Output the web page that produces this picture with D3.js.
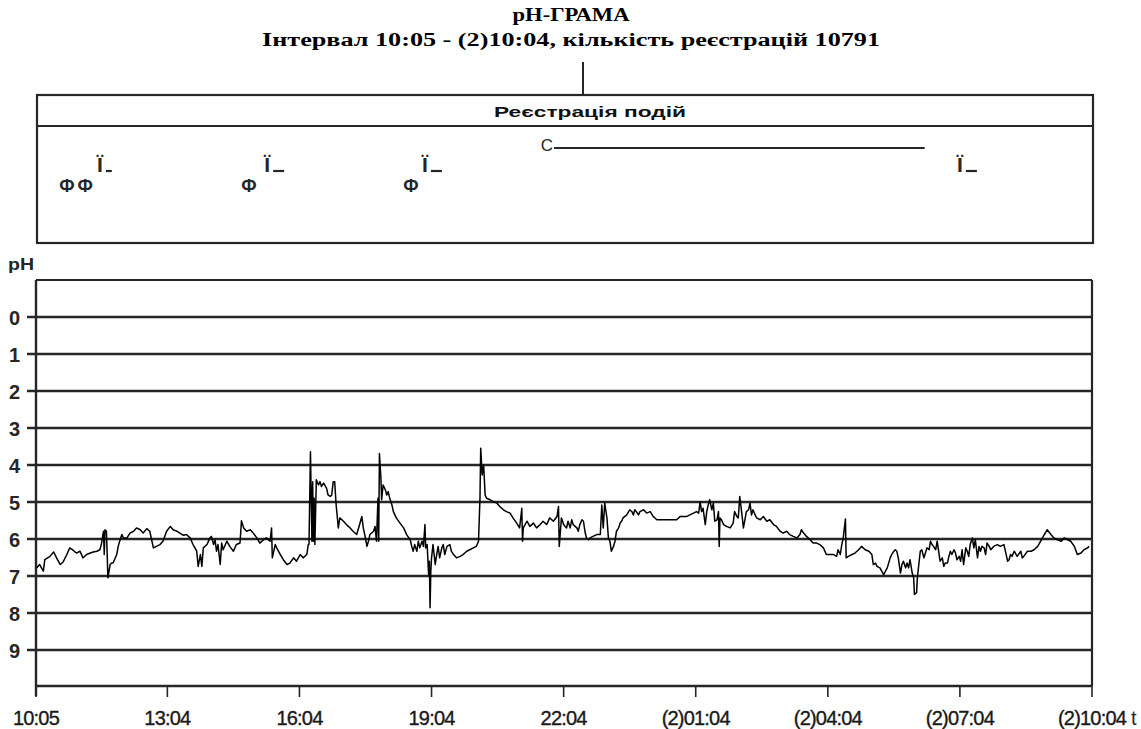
<!DOCTYPE html>
<html><head><meta charset="utf-8">
<script src="https://cdn.jsdelivr.net/npm/d3@7"></script>
<style>body{margin:0;background:#fff}svg{display:block}
.serif{font-family:"Liberation Serif","Tinos","Times New Roman","DejaVu Serif",serif;font-weight:bold}
.sans{font-family:"Liberation Sans",Arial,"Arimo",sans-serif}
</style>
</head><body>
<svg id="c" width="1141" height="729"></svg>
<script>
// ---- data ----
const title = "pH-ГРАМА";
const subtitle = "Інтервал 10:05 - (2)10:04, кількість реєстрацій 10791";
const eventsTitle = "Реєстрація подій";
// minutes since 10:05
const times = [1,5,10,12,19,24,28,33,37,42,46,51,55,60,64,69,74,78,83,87,89,92,93,94,96,98,101,103,105,110,112,114,117,119,124,128,133,137,142,146,151,155,160,164,169,173,178,183,187,192,196,201,205,210,214,219,221,224,226,228,233,237,239,242,244,246,248,251,253,255,260,264,269,273,278,280,283,287,292,296,301,305,310,314,319,321,322,326,328,333,337,342,346,351,355,360,364,369,371,
372,374,376,377,378,379,380,382,385,387,389,392,396,398,401,403,405,407,409,412,414,419,423,428,432,437,441,444,446,448,451,453,455,460,462,464,466,467,468,470,471,473,476,478,480,482,485,487,491,496,501,505,510,512,514,516,519,521,523,526,528,530,531,533,535,536,537,538,539,541,544,546,548,550,553,555,557,560,564,566,569,573,578,582,587,591,596,600,603,605,606,608,610,612,614,619,623,628,632,637,641,646,650,655,659,662,663,664,669,673,678,682,687,691,696,700,705,710,712,713,
716,719,721,723,725,728,730,732,737,739,741,744,746,748,750,753,755,759,764,769,771,773,775,778,780,782,784,787,789,791,794,796,798,800,805,809,812,814,816,818,821,823,828,832,837,841,846,859,873,878,887,891,896,900,903,905,907,909,912,914,916,918,921,923,925,928,930,931,932,934,937,941,946,950,952,955,957,959,962,964,966,968,971,973,975,977,980,982,987,991,996,1000,1005,1009,1014,1018,1023,1027,1032,1037,1041,1043,1046,1050,1055,1059,1064,1068,1073,1077,1082,
1087,1091,1093,1096,1098,1100,1103,1104,1107,1112,1116,1121,1125,1130,1135,1139,1141,1144,1146,1150,1155,1160,1164,1166,1169,1171,1173,1175,1178,1180,1182,1185,1187,1189,1191,1194,1196,1197,1200,1201,1203,1205,1207,1210,1212,1214,1217,1219,1221,1223,1226,1228,1230,1232,1235,1237,1239,1242,1244,1246,1248,1251,1253,1255,1258,1260,1262,1264,1267,1269,1271,1273,1276,1278,1280,1283,1285,1287,1289,1292,1294,1296,1299,1301,1305,1310,1314,1319,1321,1324,1326,1328,1330,1333,1337,1342,1344,1346,1351,1356,1360,1365,1369,1374,1378,1383,1387,1392,1397,1401,1406,1410,1415,1419,1424,1428,1433,1435];
const phValues = [6.78,6.69,6.87,6.56,6.47,6.35,6.51,6.69,6.62,6.42,6.24,6.31,6.38,6.33,6.51,6.42,6.38,6.35,6.33,6.29,6.15,5.79,6.42,5.75,5.79,7.05,6.69,6.65,6.65,6.42,6.2,6.06,5.88,5.97,5.97,5.84,5.79,5.7,5.75,5.84,5.72,5.79,6.24,6.2,6.15,6.06,5.79,5.66,5.75,5.79,5.84,5.9,5.88,5.97,6.15,6.33,6.74,6.42,6.74,6.24,6.15,5.97,5.93,6.15,6.02,6.33,6.15,6.69,6.11,6.29,6.06,6.2,6.33,6.15,6.11,5.51,5.7,5.79,5.75,5.84,5.97,6.11,6.02,5.97,6.06,5.7,6.51,6.15,6.24,6.42,6.56,6.69,6.65,6.51,6.6,6.42,6.51,6.42,6.15,
6.15,3.64,6.06,4.45,6.06,4.9,6.15,4.4,4.54,4.45,4.58,4.49,4.63,4.81,4.85,4.81,4.45,4.45,5.08,5.7,5.43,5.52,5.61,5.7,5.79,5.88,5.61,5.39,5.7,5.88,6.2,6.06,5.88,5.79,5.66,6.06,4.9,6.06,3.69,4.36,4.94,4.54,4.67,4.81,4.72,4.9,5.08,5.26,5.43,5.57,5.7,5.88,6.02,6.2,6.33,6.15,6.33,6.06,6.24,6.06,6.2,5.61,6.24,6.15,6.96,6.6,7.86,6.87,6.51,6.15,6.69,6.42,6.2,6.51,6.24,6.15,6.42,6.2,6.15,6.33,6.42,6.51,6.47,6.42,6.33,6.29,6.24,6.2,6.06,4.9,3.55,4.27,4.0,4.81,4.9,4.94,4.99,5.03,5.12,5.21,5.26,5.3,5.43,5.57,5.7,5.17,6.06,5.7,5.52,5.66,5.57,5.7,5.61,5.52,5.61,5.43,5.52,5.39,5.12,6.2,
5.43,5.61,5.66,5.7,5.52,5.7,5.48,5.61,5.7,5.79,5.61,5.48,5.52,5.79,5.97,6.02,5.97,5.93,5.88,5.88,5.08,5.7,5.03,5.43,5.97,6.06,6.33,6.2,6.06,5.79,5.7,5.57,5.52,5.43,5.35,5.21,5.26,5.35,5.21,5.26,5.35,5.26,5.21,5.3,5.26,5.39,5.48,5.48,5.48,5.39,5.39,5.35,5.3,5.26,5.3,4.99,5.26,5.17,5.61,5.26,5.08,4.94,5.21,5.03,5.52,5.48,5.26,6.2,5.43,5.48,5.61,5.66,5.7,5.57,5.26,5.39,5.43,4.85,5.35,5.7,5.48,5.26,5.21,5.03,5.35,5.21,5.35,5.43,5.48,5.39,5.52,5.48,5.61,5.66,5.79,5.84,5.79,5.88,5.93,5.97,5.88,5.75,5.84,5.93,6.02,6.11,6.11,6.15,6.24,6.42,6.42,
6.42,6.47,6.29,6.42,6.15,5.97,5.46,6.51,6.47,6.42,6.38,6.29,6.2,6.29,6.33,6.42,6.69,6.65,6.74,6.78,6.96,6.78,6.51,6.42,6.33,6.29,6.33,6.51,6.92,6.69,6.6,6.78,6.65,6.78,6.56,6.92,7.05,7.5,7.45,7.05,6.69,6.33,6.29,6.51,6.38,6.24,6.29,6.06,6.15,6.2,6.29,6.06,6.33,6.6,6.51,6.74,6.65,6.65,6.47,6.33,6.42,6.29,6.38,6.56,6.47,6.6,6.29,6.69,6.24,6.33,6.47,6.15,5.97,6.24,6.02,6.51,6.2,6.33,6.2,6.24,6.42,6.11,6.2,6.29,6.2,6.15,6.2,6.15,6.33,6.6,6.56,6.42,6.47,6.33,6.47,6.33,6.51,6.47,6.33,6.33,6.29,6.2,6.06,5.88,5.75,5.88,5.97,6.02,6.06,5.97,6.02,6.06,6.2,6.42,6.38,6.29,6.24,6.2];
const yTicks = [0,1,2,3,4,5,6,7,8,9];
const xTickValues = [0,179,359,539,719,899,1079,1259,1439];
const xTickLabels = ["10:05","13:04","16:04","19:04","22:04","(2)01:04","(2)04:04","(2)07:04","(2)10:04"];
// events: symbol and time (minutes since 10:05)
const phiTimes = [42,67,290,511];
const iTimes = [87,315,530,1259];
const sleepStart = 710, sleepEnd = 1211;

// ---- layout ----
const svg = d3.select("#c");
const L = 36, R = 1092, T = 280, B = 686;
const x = d3.scaleLinear().domain([0,1439]).range([L,R]);
const y = d3.scaleLinear().domain([-1,10]).range([T,687]);
const dark = "#262626";

// titles
svg.append("text").attr("class","serif").attr("x",571).attr("y",21).attr("text-anchor","middle")
  .attr("font-size",18).attr("textLength",117).attr("lengthAdjust","spacingAndGlyphs").text(title);
svg.append("text").attr("class","serif").attr("x",571).attr("y",46).attr("text-anchor","middle")
  .attr("font-size",18).attr("textLength",618).attr("lengthAdjust","spacingAndGlyphs").text(subtitle);
// cursor mark
svg.append("line").attr("x1",583).attr("x2",583).attr("y1",62).attr("y2",95)
  .attr("stroke",dark).attr("stroke-width",2);

// events panel
const ev = svg.append("g");
ev.append("rect").attr("x",37).attr("y",95).attr("width",1056).attr("height",148)
  .attr("fill","none").attr("stroke",dark).attr("stroke-width",2.2);
ev.append("line").attr("x1",37).attr("x2",1093).attr("y1",126).attr("y2",126)
  .attr("stroke",dark).attr("stroke-width",2.2);
ev.append("text").attr("class","sans").attr("x",590).attr("y",117).attr("text-anchor","middle")
  .attr("font-weight","bold").attr("font-size",15).attr("fill","#111")
  .attr("textLength",192).attr("lengthAdjust","spacingAndGlyphs").text(eventsTitle);
ev.selectAll("text.phi").data(phiTimes).join("text").attr("class","sans phi")
  .attr("x",d=>x(d)).attr("y",192).attr("text-anchor","middle")
  .attr("font-weight","bold").attr("font-size",18).attr("fill",dark).text("Ф");
ev.selectAll("text.ii").data(iTimes).join("text").attr("class","sans ii")
  .attr("x",d=>x(d)).attr("y",172).attr("text-anchor","middle")
  .attr("font-weight","bold").attr("font-size",21).attr("fill",dark).text("Ї");
ev.selectAll("line.us").data(iTimes).join("line").attr("class","us")
  .attr("x1",d=>x(d)+6).attr("x2",(d,i)=>x(d)+(i===0?12:17)).attr("y1",171).attr("y2",171)
  .attr("stroke",dark).attr("stroke-width",2.2);
ev.append("text").attr("class","sans").attr("x",x(sleepStart)-4).attr("y",151).attr("text-anchor","end")
  .attr("font-size",17).attr("fill",dark).text("C");
ev.append("line").attr("x1",x(sleepStart)-3).attr("x2",x(sleepEnd)).attr("y1",148).attr("y2",148)
  .attr("stroke",dark).attr("stroke-width",2.2);

// main plot
svg.append("text").attr("class","sans").attr("x",8).attr("y",270).attr("font-weight","bold")
  .attr("font-size",16).attr("fill",dark).attr("textLength",26).attr("lengthAdjust","spacingAndGlyphs").text("pH");
const g = svg.append("g");
g.selectAll("line.grid").data(yTicks).join("line").attr("class","grid")
  .attr("x1",27).attr("x2",R).attr("y1",d=>y(d)).attr("y2",d=>y(d))
  .attr("stroke",dark).attr("stroke-width",2.4);
g.selectAll("text.yl").data(yTicks).join("text").attr("class","sans yl")
  .attr("x",20).attr("y",d=>y(d)+7.5).attr("text-anchor","end")
  .attr("font-weight","bold").attr("font-size",20).attr("fill",dark).text(d=>d);
// frame
g.append("line").attr("x1",L).attr("x2",R).attr("y1",T).attr("y2",T).attr("stroke",dark).attr("stroke-width",2.2);
g.append("line").attr("x1",R).attr("x2",R).attr("y1",T).attr("y2",B).attr("stroke",dark).attr("stroke-width",2.2);
g.append("line").attr("x1",L).attr("x2",R).attr("y1",B).attr("y2",B).attr("stroke",dark).attr("stroke-width",2.4);
g.append("line").attr("x1",L).attr("x2",L).attr("y1",T).attr("y2",696).attr("stroke",dark).attr("stroke-width",2.4);
// x ticks
g.selectAll("line.xt").data(xTickValues).join("line").attr("class","xt")
  .attr("x1",d=>x(d)).attr("x2",d=>x(d)).attr("y1",B).attr("y2",697).attr("stroke",dark).attr("stroke-width",1.6);
g.selectAll("text.xl").data(xTickValues).join("text").attr("class","sans xl")
  .attr("x",d=>x(d)).attr("y",725).attr("text-anchor","middle")
  .attr("font-size",20).attr("fill","#1a1a1a").attr("stroke","#1a1a1a").attr("stroke-width",0.35)
  .attr("letter-spacing",-0.8).text((d,i)=>xTickLabels[i]);
svg.append("text").attr("class","sans").attr("x",1131).attr("y",725).attr("font-size",20).attr("fill",dark).text("t");

// pH line
const pts = times.map((t,i)=>[t,phValues[i]]);
g.append("path").datum(pts).attr("fill","none").attr("stroke","#000").attr("stroke-width",1.5)
  .attr("stroke-linejoin","round")
  .attr("d", d3.line().x(d=>x(d[0])).y(d=>y(d[1])));
</script>
</body></html>
